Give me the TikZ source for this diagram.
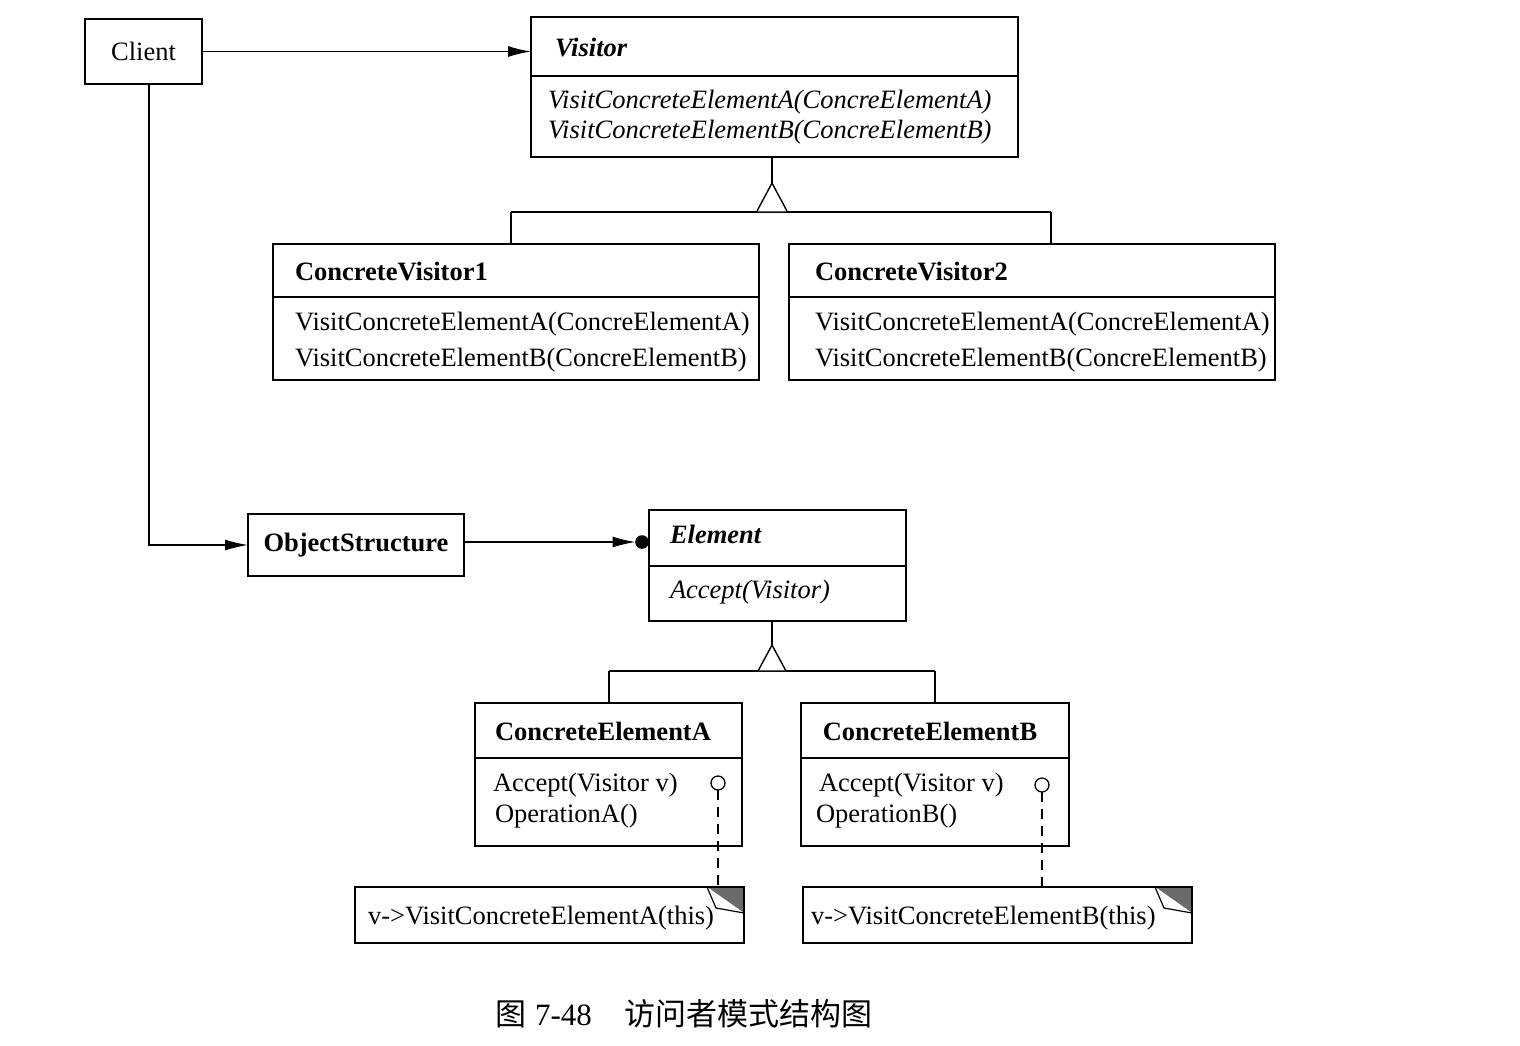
\documentclass[tikz,border=0pt]{standalone}
\usepackage{fontspec}
\setmainfont{Liberation Serif}
\newfontfamily\cjk{Noto Sans CJK SC}
\usetikzlibrary{arrows.meta}
\begin{document}
\begin{tikzpicture}[x=1pt,y=-1pt,
  every node/.style={font=\fontsize{26.5}{30}\selectfont, inner sep=0pt, outer sep=0pt},
  umlbox/.style={draw, line width=1.4pt, anchor=north west, fill=white},
  ln/.style={line width=1.4pt},
  arr/.style={line width=1.4pt, -{Latex[length=23pt,width=11pt]}},
  txt/.style={anchor=base west},
  dashln/.style={line width=1.4pt, dash pattern=on 10pt off 7pt},
  tri/.style={line width=1.4pt, fill=white}
]
\fill[white] (0,0) rectangle (1520,1045);
\useasboundingbox (0,0) rectangle (1520,1045);

% Client
\node[umlbox, minimum width=117pt, minimum height=65pt] (client) at (85,19) {};
\node (clientt) at (client.center) {Client};

% Visitor
\node[umlbox, minimum width=487pt, minimum height=140pt] (visitor) at (531,17) {};
\draw[ln] (531,76) -- (1018,76);
\node[txt] (vt) at (555,56) {\bfseries\itshape Visitor};
\node[txt] (vo1) at (548,108) {\itshape VisitConcreteElementA(ConcreElementA)};
\node[txt] (vo2) at (548,138) {\itshape VisitConcreteElementB(ConcreElementB)};

% ConcreteVisitor1
\node[umlbox, minimum width=486pt, minimum height=136pt] (cv1) at (273,244) {};
\draw[ln] (273,297) -- (759,297);
\node[txt] (cv1t) at (295,280) {\bfseries ConcreteVisitor1};
\node[txt] (cv1o1) at (295,330) {VisitConcreteElementA(ConcreElementA)};
\node[txt] (cv1o2) at (295,366) {VisitConcreteElementB(ConcreElementB)};

% ConcreteVisitor2
\node[umlbox, minimum width=486pt, minimum height=136pt] (cv2) at (789,244) {};
\draw[ln] (789,297) -- (1275,297);
\node[txt] (cv2t) at (815,280) {\bfseries ConcreteVisitor2};
\node[txt] (cv2o1) at (815,330) {VisitConcreteElementA(ConcreElementA)};
\node[txt] (cv2o2) at (815,366) {VisitConcreteElementB(ConcreElementB)};

% Inheritance Visitor
\coordinate (vtip) at (772,183);
\coordinate (vbar) at (772,212);
\coordinate (vl) at (511,212);
\coordinate (vr) at (1051,212);
\draw[ln] (visitor.south -| vtip) -- (vtip);
\draw[ln] (vl) -- (vr);
\draw[ln] (vl) -- (cv1.north -| vl);
\draw[ln] (vr) -- (cv2.north -| vr);
\draw[tri] (vtip) -- ([xshift=-15.5pt]vbar) -- ([xshift=15.5pt]vbar) -- cycle;

% ObjectStructure
\node[umlbox, minimum width=216pt, minimum height=62pt] (os) at (248,514) {};
\node (ost) at (os.center) {\bfseries ObjectStructure};

% Element
\node[umlbox, minimum width=257pt, minimum height=111pt] (element) at (649,510) {};
\draw[ln] (649,566) -- (906,566);
\node[txt] (et) at (670,543) {\bfseries\itshape Element};
\node[txt] (eo) at (670,598) {\itshape Accept(Visitor)};

% Client connectors
\draw[arr] (client.east) -- (client.east -| visitor.west);
\draw[arr] ([xshift=5.5pt]client.south) |- (os.west);
% ObjectStructure -> Element
\coordinate (aggdot) at ([xshift=-7pt,yshift=3pt]element.west |- os.east);
\draw[arr] ([yshift=3pt]os.east) -- ([xshift=-6.5pt]aggdot);
\fill (aggdot) circle (6.8pt);

% ConcreteElementA / B
\node[umlbox, minimum width=267pt, minimum height=143pt] (cea) at (475,703) {};
\draw[ln] (475,758) -- (742,758);
\node (ceat) at (603,731) {\bfseries ConcreteElementA};
\node[txt] (ceao1) at (493,791) {Accept(Visitor v)};
\node[txt] (ceao2) at (495,822) {OperationA()};

\node[umlbox, minimum width=268pt, minimum height=143pt] (ceb) at (801,703) {};
\draw[ln] (801,758) -- (1069,758);
\node (cebt) at (930,731) {\bfseries ConcreteElementB};
\node[txt] (cebo1) at (819,791) {Accept(Visitor v)};
\node[txt] (cebo2) at (816,822) {OperationB()};

% Inheritance Element
\coordinate (etip) at (772,645);
\coordinate (ebar) at (772,671);
\coordinate (el) at (609,671);
\coordinate (er) at (935,671);
\draw[ln] (element.south -| etip) -- (etip);
\draw[ln] (el) -- (er);
\draw[ln] (el) -- (cea.north -| el);
\draw[ln] (er) -- (ceb.north -| er);
\draw[tri] (etip) -- ([xshift=-14pt]ebar) -- ([xshift=14pt]ebar) -- cycle;

% Notes
\node[umlbox, minimum width=389pt, minimum height=56pt] (noteA) at (355,887) {};
\node[txt] (noteAt) at (368,924) {v->VisitConcreteElementA(this)};
\node[umlbox, minimum width=389pt, minimum height=56pt] (noteB) at (803,887) {};
\node[txt] (noteBt) at (811,924) {v->VisitConcreteElementB(this)};

\foreach \n in {noteA,noteB}{
  \fill[black!58] ([xshift=-37pt]\n.north east) -- (\n.north east) -- ([yshift=-26pt]\n.north east) -- cycle;
  \draw[line width=1.2pt, fill=white, line join=round] ([xshift=-37pt]\n.north east) -- ([xshift=-28pt,yshift=-21pt]\n.north east) -- ([yshift=-26pt]\n.north east);
  \draw[ln] (\n.north west) rectangle (\n.south east);
}

% Note anchors
\coordinate (circA) at (718,783);
\coordinate (circB) at (1042,785);
\draw[dashln] ([yshift=-7pt]circA) -- (noteA.north -| circA);
\draw[dashln] ([yshift=-7pt]circB) -- (noteB.north -| circB);
\draw[line width=1.3pt, fill=white] (circA) circle (7pt);
\draw[line width=1.3pt, fill=white] (circB) circle (7pt);

% Caption
\node[anchor=base west, font=\fontsize{31}{36}\selectfont] (caption) at (495,1025)
  {{\cjk 图}\hspace{9pt}7-48\hspace{33pt}{\cjk 访问者模式结构图}};
\end{tikzpicture}
\end{document}
